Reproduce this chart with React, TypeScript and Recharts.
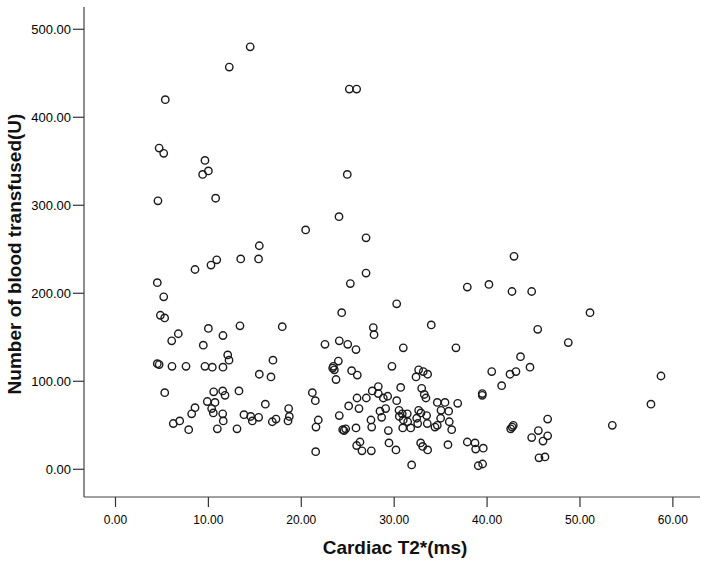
import { ScatterChart, Scatter, XAxis, YAxis } from "recharts";

// Cardiac T2* (ms) per patient
const cardiacT2 = [
  14.5, 12.25, 5.36, 4.7, 5.19, 9.63, 10.0, 9.38, 4.57, 10.78,
  15.48, 15.4, 13.48, 10.9, 10.28, 8.56, 4.5, 5.19, 4.83, 5.29,
  10.0, 13.4, 17.95, 6.76, 6.05, 11.57, 9.45, 12.08, 12.22, 4.5,
  4.7, 6.08, 7.59, 9.63, 10.42, 11.57, 16.95, 15.48, 16.74, 5.3,
  10.57, 11.54, 11.79, 13.29, 9.88, 10.71, 8.56, 8.2, 10.35, 10.53,
  11.54, 11.6, 16.13, 13.83, 14.55, 14.73, 15.41, 18.64, 18.71, 18.57,
  16.88, 17.28, 6.22, 6.91, 7.88, 10.96, 13.08, 25.17, 25.96, 24.95,
  24.06, 20.47, 26.97, 26.97, 25.28, 37.87, 40.2, 30.27, 24.35, 27.75,
  33.99, 27.83, 22.55, 24.09, 25.0, 25.89, 30.98, 36.65, 23.99, 23.38,
  23.56, 23.45, 23.74, 25.42, 26.03, 29.76, 32.63, 33.13, 33.6, 32.35,
  40.5, 21.19, 21.51, 21.83, 21.58, 21.55, 24.09, 24.46, 24.78, 24.6,
  25.1, 26.0, 26.21, 25.89, 26.32, 25.96, 26.53, 27.54, 27.0, 27.64,
  28.29, 28.29, 28.83, 29.3, 27.5, 27.58, 28.47, 29.08, 28.65, 29.37,
  29.44, 30.19, 30.27, 30.7, 30.52, 30.55, 30.87, 31.41, 30.98, 31.45,
  30.92, 31.78, 31.88, 32.42, 32.63, 32.88, 32.53, 32.96, 33.24, 33.42,
  32.85, 33.07, 33.6, 33.56, 33.49, 34.64, 35.47, 35.04, 35.87, 36.84,
  35.0, 34.39, 34.64, 35.93, 36.19, 35.79, 37.87, 38.7, 38.77, 39.59,
  39.05, 39.52, 39.48, 39.48, 45.45, 48.74, 43.6, 42.47, 43.11, 44.62,
  41.57, 58.72, 57.64, 53.48, 46.52, 42.82, 42.54, 42.7, 45.52, 44.8,
  46.52, 46.02, 45.59, 46.23, 42.9, 42.68, 44.8, 51.08,
];

// Number of blood units transfused, same order
const bloodUnits = [
  480, 457, 420, 365, 359, 351, 339, 335, 305, 308,
  254, 239, 239, 238, 232, 227, 212, 196, 175, 172,
  160, 163, 162, 154, 146, 152, 141, 130, 124, 120,
  119, 117, 117, 117, 116, 116, 124, 108, 105, 87,
  88, 89, 84, 89, 77, 76, 70, 63, 69, 64,
  63, 55, 74, 62, 60, 55, 59, 69, 60, 55,
  54, 57, 52, 55, 45, 46, 46, 432, 432, 335,
  287, 272, 263, 223, 211, 207, 210, 188, 178, 161,
  164, 153, 142, 146, 142, 136, 138, 138, 123, 115,
  113, 117, 102, 112, 107, 117, 113, 111, 108, 105,
  111, 87, 78, 56, 48, 20, 61, 45, 46, 44,
  72, 81, 69, 47, 31, 27, 21, 21, 81, 89,
  94, 86, 81, 83, 56, 48, 66, 69, 59, 44,
  30, 22, 78, 93, 67, 60, 63, 63, 56, 54,
  47, 47, 5, 58, 67, 64, 52, 92, 85, 81,
  30, 26, 22, 52, 61, 76, 76, 67, 66, 75,
  58, 48, 50, 54, 45, 28, 31, 30, 23, 24,
  4, 6, 86, 84, 159, 144, 128, 108, 111, 116,
  95, 106, 74, 50, 57, 50, 46, 48, 44, 36,
  38, 32, 13, 14, 242, 202, 202, 178,
];

const xTicks = [0, 10, 20, 30, 40, 50, 60];
const yTicks = [0, 100, 200, 300, 400, 500];

const data = cardiacT2.map((t2, i) => ({ t2, units: bloodUnits[i] }));

const font = "'Liberation Sans', Arial, sans-serif";

const Ring = (props: any) => (
  <circle cx={props.cx} cy={props.cy} r={3.7} fill="none" stroke="#1a1a1a" strokeWidth={1.4} />
);

export default function App() {
  return (
    <div style={{ position: "absolute", left: 0, top: 0, width: 704, height: 562, background: "#fff", fontFamily: font }}>
      <ScatterChart width={704} height={562} margin={{ top: 7, right: 4, left: 0, bottom: 0 }}>
        <XAxis
          type="number"
          dataKey="t2"
          domain={[-3.39, 62.92]}
          ticks={xTicks}
          allowDataOverflow
          height={65}
          tickSize={10}
          tickMargin={8}
          tickFormatter={(v) => Number(v).toFixed(2)}
          tick={{ fontSize: 12, fill: "#000", fontFamily: font }}
          axisLine={{ stroke: "#444", strokeWidth: 1.2 }}
          tickLine={{ stroke: "#333", strokeWidth: 1.2 }}
        />
        <YAxis
          type="number"
          dataKey="units"
          domain={[-31.5, 525.3]}
          ticks={yTicks}
          allowDataOverflow
          width={84}
          tickSize={11}
          tickMargin={2}
          tickFormatter={(v) => Number(v).toFixed(2)}
          tick={{ fontSize: 13, fill: "#000", fontFamily: font }}
          axisLine={{ stroke: "#444", strokeWidth: 1.2 }}
          tickLine={{ stroke: "#333", strokeWidth: 1.2 }}
        />
        <Scatter data={data} shape={Ring} isAnimationActive={false} />
      </ScatterChart>
      <div
        style={{
          position: "absolute",
          left: 15,
          top: 254,
          transform: "translate(-50%, -50%) rotate(-90deg)",
          whiteSpace: "nowrap",
          fontSize: 19,
          fontWeight: "bold",
          color: "#111",
        }}
      >
        Number of blood transfused(U)
      </div>
      <div
        style={{
          position: "absolute",
          left: 395,
          top: 548,
          transform: "translate(-50%, -50%)",
          whiteSpace: "nowrap",
          fontSize: 19,
          fontWeight: "bold",
          color: "#111",
        }}
      >
        Cardiac T2*(ms)
      </div>
    </div>
  );
}
